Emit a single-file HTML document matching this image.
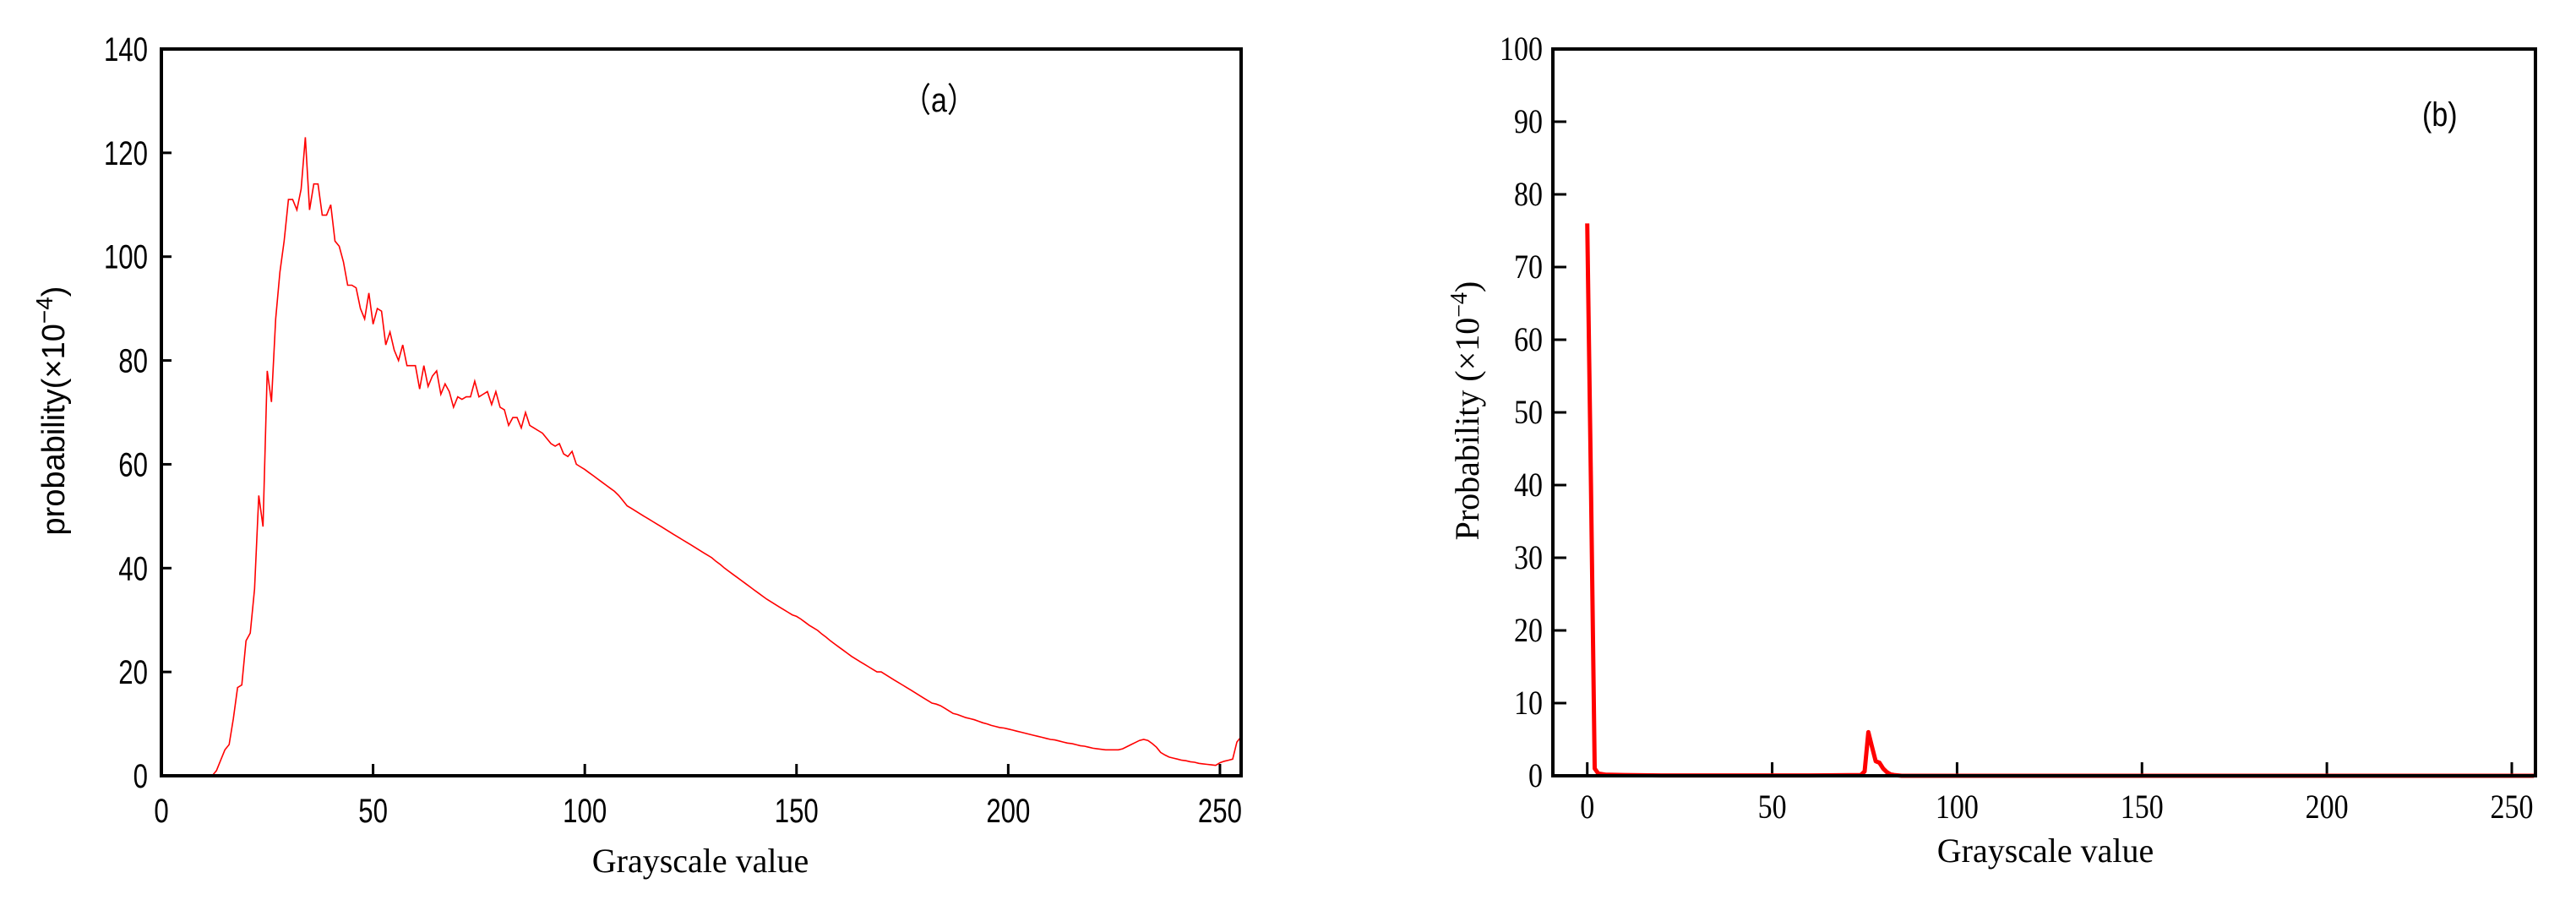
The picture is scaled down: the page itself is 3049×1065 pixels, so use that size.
<!DOCTYPE html>
<html><head><meta charset="utf-8"><style>
html,body{margin:0;padding:0;background:#fff;}
svg{display:block;}
.sans{font-family:"Liberation Sans",sans-serif;}
.serif{font-family:"Liberation Serif",serif;}
</style></head><body>
<svg id="chart" width="3049" height="1065" viewBox="0 0 3049 1065" xmlns="http://www.w3.org/2000/svg">
<rect width="3049" height="1065" fill="#fff"/>
<g id="pa"></g>
<g id="pb"></g>
</svg>
<script>
// Panel (a) data: probability (x1e-4) per grayscale value 0..255
const aValues = [
0,0,0,0,0,0,0,0,0,0,0,0,0,1,3,5,6,11,17,17.5,
26,27.5,36,54,48,78,72,88,97,103,111,111,109,113,123,109,114,114,108,108,
110,103,102,99,94.5,94.5,94,90,88,93,87,90,89.5,83,85.5,82,80,83,79,79,
79,74.5,79,75,77,78,73.5,75.5,74,71,73,72.5,73,73,76,73,73.5,74,71.5,74,
71,70.5,67.5,69,69,67,70,67.5,67,66.5,66,65,64,63.5,64,62,61.5,62.5,60,59.5,
59,58.4,57.8,57.2,56.6,56,55.4,54.8,54,53,52,51.5,51,50.5,50,49.5,49,48.5,48,47.5,
47,46.5,46,45.5,45,44.5,44,43.5,43,42.5,42,41.3,40.7,40,39.4,38.8,38.2,37.6,37,36.4,
35.8,35.2,34.6,34,33.5,33,32.5,32,31.5,31,30.7,30.2,29.6,29,28.5,28,27.3,26.7,26,25.4,
24.8,24.2,23.6,23,22.5,22,21.5,21,20.5,20,20,19.5,19,18.5,18,17.5,17,16.5,16,15.5,
15,14.5,14,13.8,13.5,13,12.5,12,11.8,11.5,11.2,11,10.8,10.5,10.2,10,9.7,9.5,9.3,9.2,
9,8.8,8.6,8.4,8.2,8,7.8,7.6,7.4,7.2,7,6.9,6.7,6.5,6.3,6.2,6,5.8,5.7,5.5,
5.3,5.2,5.1,5,5,5,5,5.2,5.6,6,6.4,6.8,7,6.8,6.2,5.5,4.5,4,3.6,3.4,
3.2,3,2.9,2.7,2.6,2.4,2.3,2.2,2.1,2,2.5,2.8,3,3.2,6.5,7.5];
const aYTicks = [0,20,40,60,80,100,120,140];
const aXTicks = [0,50,100,150,200,250];

// Panel (b) data
const bX = [0,1,2,3,5,10,20,40,60,74,75,76,77,78,79,80,81,82,83,85,90,120,200,256];
const bY = [76,40,1,0.3,0.15,0.1,0.05,0.05,0.05,0.1,0.6,6,4,2,1.8,1,0.5,0.2,0.1,0,0,0,0,0];
const bYTicks = [0,10,20,30,40,50,60,70,80,90,100];
const bXTicks = [0,50,100,150,200,250];

const NS="http://www.w3.org/2000/svg";
function mk(parent,tag,attrs,text){const e=document.createElementNS(NS,tag);for(const k in attrs)e.setAttribute(k,attrs[k]);if(text!==undefined)e.textContent=text;parent.appendChild(e);return e;}

// ---------- Panel A ----------
const pa=document.getElementById('pa');
const A={l:191,r:1469,t:58,b:918,x0:0,x1:255,y0:0,y1:140};
const ax=v=>A.l+(v-A.x0)/(A.x1-A.x0)*(A.r-A.l);
const ay=v=>A.b-(v-A.y0)/(A.y1-A.y0)*(A.b-A.t);
aYTicks.forEach(v=>{
  const t=mk(pa,'line',{x1:A.l,x2:A.l+12,y1:ay(v),y2:ay(v),stroke:'#000','stroke-width':3});
  
  
  const l=mk(pa,'text',{x:0,y:0,'font-size':40,'text-anchor':'end',class:'sans',transform:`translate(175,${ay(v)+14}) scale(0.78,1)`},String(v));
  
  
});
aXTicks.forEach(v=>{
  const t=mk(pa,'line',{x1:ax(v),x2:ax(v),y1:A.b,y2:A.b-14,stroke:'#000','stroke-width':3});
  
  
  const l=mk(pa,'text',{x:0,y:0,'font-size':40,'text-anchor':'middle',class:'sans',transform:`translate(${ax(v)},${A.b+55}) scale(0.78,1)`},String(v));
  
  
});
let dA='';aValues.forEach((v,i)=>{dA+=(i?'L':'M')+ax(i).toFixed(1)+','+ay(v).toFixed(1);});
const la=mk(pa,'path',{d:dA,fill:'none',stroke:'#ff0000','stroke-width':1.6});


const fa=mk(pa,'rect',{x:A.l,y:A.t,width:A.r-A.l,height:A.b-A.t,fill:'none',stroke:'#000','stroke-width':4});


const lblA=mk(pa,'text',{x:0,y:0,'font-size':40,class:'sans',transform:'translate(1068,132) scale(0.85,1)'},'（a）');


const xtA=mk(pa,'text',{x:829,y:1032,'font-size':40,'text-anchor':'middle',class:'serif'},'Grayscale value');


const ytA=mk(pa,'text',{x:0,y:0,'font-size':38,'text-anchor':'middle',class:'sans',transform:'translate(76,486) rotate(-90)'});


ytA.innerHTML='probability(×10<tspan dy="-14" font-size="28">−4</tspan><tspan dy="14">)</tspan>';

// ---------- Panel B ----------
const pb=document.getElementById('pb');
const B={l:1838,r:3001,t:58,b:918,x0:-9.3,x1:256.4,y0:0,y1:100};
const bx=v=>B.l+(v-B.x0)/(B.x1-B.x0)*(B.r-B.l);
const by=v=>B.b-(v-B.y0)/(B.y1-B.y0)*(B.b-B.t);
bYTicks.forEach(v=>{
  const t=mk(pb,'line',{x1:B.l,x2:B.l+16,y1:by(v),y2:by(v),stroke:'#000','stroke-width':3});
  
  
  const l=mk(pb,'text',{x:0,y:0,'font-size':40,'text-anchor':'end',class:'serif',transform:`translate(1826,${by(v)+13}) scale(0.85,1)`},String(v));
  
  
});
bXTicks.forEach(v=>{
  const t=mk(pb,'line',{x1:bx(v),x2:bx(v),y1:B.b,y2:B.b-16,stroke:'#000','stroke-width':3});
  
  
  const l=mk(pb,'text',{x:0,y:0,'font-size':40,'text-anchor':'middle',class:'serif',transform:`translate(${bx(v)},${B.b+50}) scale(0.85,1)`},String(v));
  
  
});
let dB='';bX.forEach((x,i)=>{dB+=(i?'L':'M')+bx(x).toFixed(1)+','+by(bY[i]).toFixed(1);});
const lb=mk(pb,'path',{d:dB,fill:'none',stroke:'#ff0000','stroke-width':5,'stroke-linejoin':'round'});


const fb=mk(pb,'rect',{x:B.l,y:B.t,width:B.r-B.l,height:B.b-B.t,fill:'none',stroke:'#000','stroke-width':4});


const lblB=mk(pb,'text',{x:0,y:0,'font-size':40,class:'sans',transform:'translate(2867,149) scale(0.85,1)'},'(b)');


const xtB=mk(pb,'text',{x:2421,y:1020,'font-size':40,'text-anchor':'middle',class:'serif'},'Grayscale value');


const ytB=mk(pb,'text',{x:0,y:0,'font-size':40,'text-anchor':'middle',class:'serif',transform:'translate(1750,486) rotate(-90)'});


ytB.innerHTML='Probability (×10<tspan dy="-14" font-size="28">−4</tspan><tspan dy="14">)</tspan>';
</script>
</body></html>
